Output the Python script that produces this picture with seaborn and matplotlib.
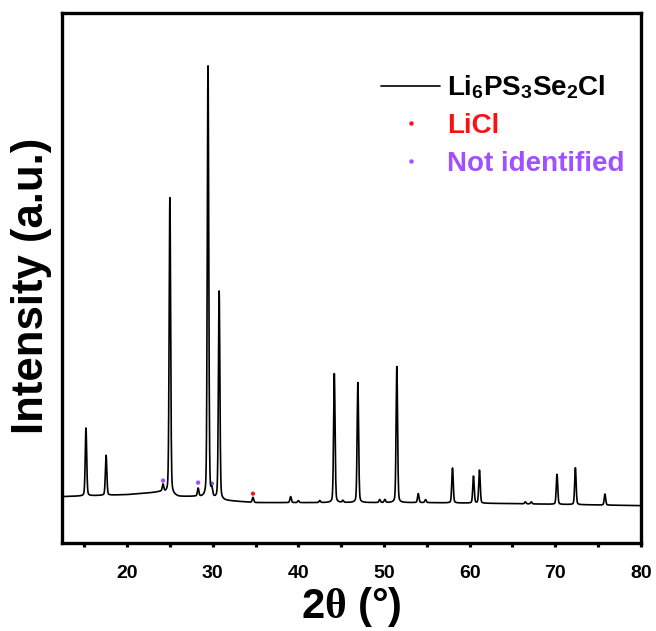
import numpy as np
import pandas as pd
import matplotlib
matplotlib.use("Agg")
import matplotlib.pyplot as plt
import seaborn as sns
from matplotlib.lines import Line2D
from matplotlib.ticker import MultipleLocator, NullLocator

# Reflection list of the diffraction pattern: 2-theta position, height above background
peak_pos = [15.2, 17.55, 24.2, 25.0, 28.3, 29.45, 29.9, 30.75, 34.7, 39.1, 40.0,
            42.5, 44.2, 45.2, 46.95, 49.5, 50.1, 51.5, 54.0, 54.85, 58.0, 60.45,
            61.15, 66.5, 67.2, 70.2, 72.35, 75.8]
peak_amp = [68, 40, 7, 297, 8, 433, 7, 209, 5, 6, 2,
            2, 129, 2, 120, 3, 3, 136, 9, 3, 35, 27,
            33, 2, 2, 30, 37, 11]

# Background level at a few 2-theta positions
bg_x = [12.4, 20, 23, 24, 26, 28, 31.5, 35, 45, 55, 65, 80]
bg_y = [46, 48, 50, 51, 46, 46, 42, 40, 40, 40, 39, 37]

# Phase markers
licl_x = [34.7]
licl_y = [49]
ni_x = [24.2, 28.3, 29.9]
ni_y = [62, 60, 59]

two_theta = np.linspace(12.4, 80, 4000)


def pseudo_voigt(x, x0, a, fwhm=0.2, eta=0.25):
    s = fwhm / 2.3548
    g = np.exp(-0.5 * ((x - x0) / s) ** 2)
    l = 1.0 / (1.0 + ((x - x0) / (fwhm / 2)) ** 2)
    return a * ((1 - eta) * g + eta * l)


intensity = np.interp(two_theta, bg_x, bg_y)
for p, a in zip(peak_pos, peak_amp):
    intensity = intensity + pseudo_voigt(two_theta, p, a)

df = pd.DataFrame({"two_theta": two_theta, "intensity": intensity})
df_licl = pd.DataFrame({"x": licl_x, "y": licl_y})
df_ni = pd.DataFrame({"x": ni_x, "y": ni_y})

sns.set_theme(style="white")
plt.rcParams["font.family"] = ["Liberation Sans", "DejaVu Sans"]
plt.rcParams["font.weight"] = "bold"
plt.rcParams["text.color"] = "black"
plt.rcParams["axes.labelcolor"] = "black"
plt.rcParams["xtick.color"] = "black"
plt.rcParams["mathtext.fontset"] = "custom"
plt.rcParams["mathtext.rm"] = "Liberation Sans:bold"
plt.rcParams["mathtext.bf"] = "Liberation Sans:bold"
plt.rcParams["mathtext.it"] = "Liberation Serif"

red = "#FF1010"
purple = "#A050FF"

fig = plt.figure(figsize=(6.56, 6.31), dpi=100)
ax = fig.add_axes([0.0945, 0.14, 0.8825, 0.839])

sns.lineplot(data=df, x="two_theta", y="intensity", color="black", lw=1.2, ax=ax)
sns.scatterplot(data=df_licl, x="x", y="y", color=red, s=9, marker="o",
                edgecolor="none", ax=ax)
sns.scatterplot(data=df_ni, x="x", y="y", color=purple, s=10, marker="o",
                edgecolor="none", ax=ax)

ax.set_xlim(12.4, 80)
ax.set_ylim(0, 529)
ax.xaxis.set_major_locator(MultipleLocator(10))
ax.xaxis.set_minor_locator(MultipleLocator(5))
ax.yaxis.set_major_locator(NullLocator())
ax.tick_params(axis="x", which="major", direction="out", length=3.2, width=2.3,
               labelsize=14, pad=13, bottom=True, color="black", labelcolor="black")
ax.tick_params(axis="x", which="minor", direction="out", length=3.2, width=2.3,
               bottom=True, color="black")
for lab in ax.get_xticklabels():
    lab.set_fontweight("bold")
for sp in ax.spines.values():
    sp.set_linewidth(2.4)
    sp.set_color("black")

ax.set_xlabel(r"2$\theta$ (°)", fontsize=30, fontweight="bold", labelpad=2,
              color="black")
ax.set_ylabel("Intensity (a.u.)", fontsize=31.5, fontweight="bold", color="black")
ax.yaxis.set_label_coords(-0.018, 0.485)

handles = [
    Line2D([], [], color="black", lw=1.2),
    Line2D([], [], color=red, marker="o", ls="", ms=2.2),
    Line2D([], [], color=purple, marker="o", ls="", ms=2.2),
]
labels = [r"Li$_\mathbf{6}$PS$_\mathbf{3}$Se$_\mathbf{2}$Cl", "LiCl", "Not identified"]
leg = ax.legend(handles, labels, loc="upper right", bbox_to_anchor=(1.0, 0.918),
                frameon=False, handlelength=2.1, handletextpad=0.25,
                labelspacing=0.42, borderaxespad=0.2,
                prop={"weight": "bold", "size": 20})
for t, c in zip(leg.get_texts(), ["black", red, purple]):
    t.set_color(c)

fig.savefig("out.png", dpi=100)
